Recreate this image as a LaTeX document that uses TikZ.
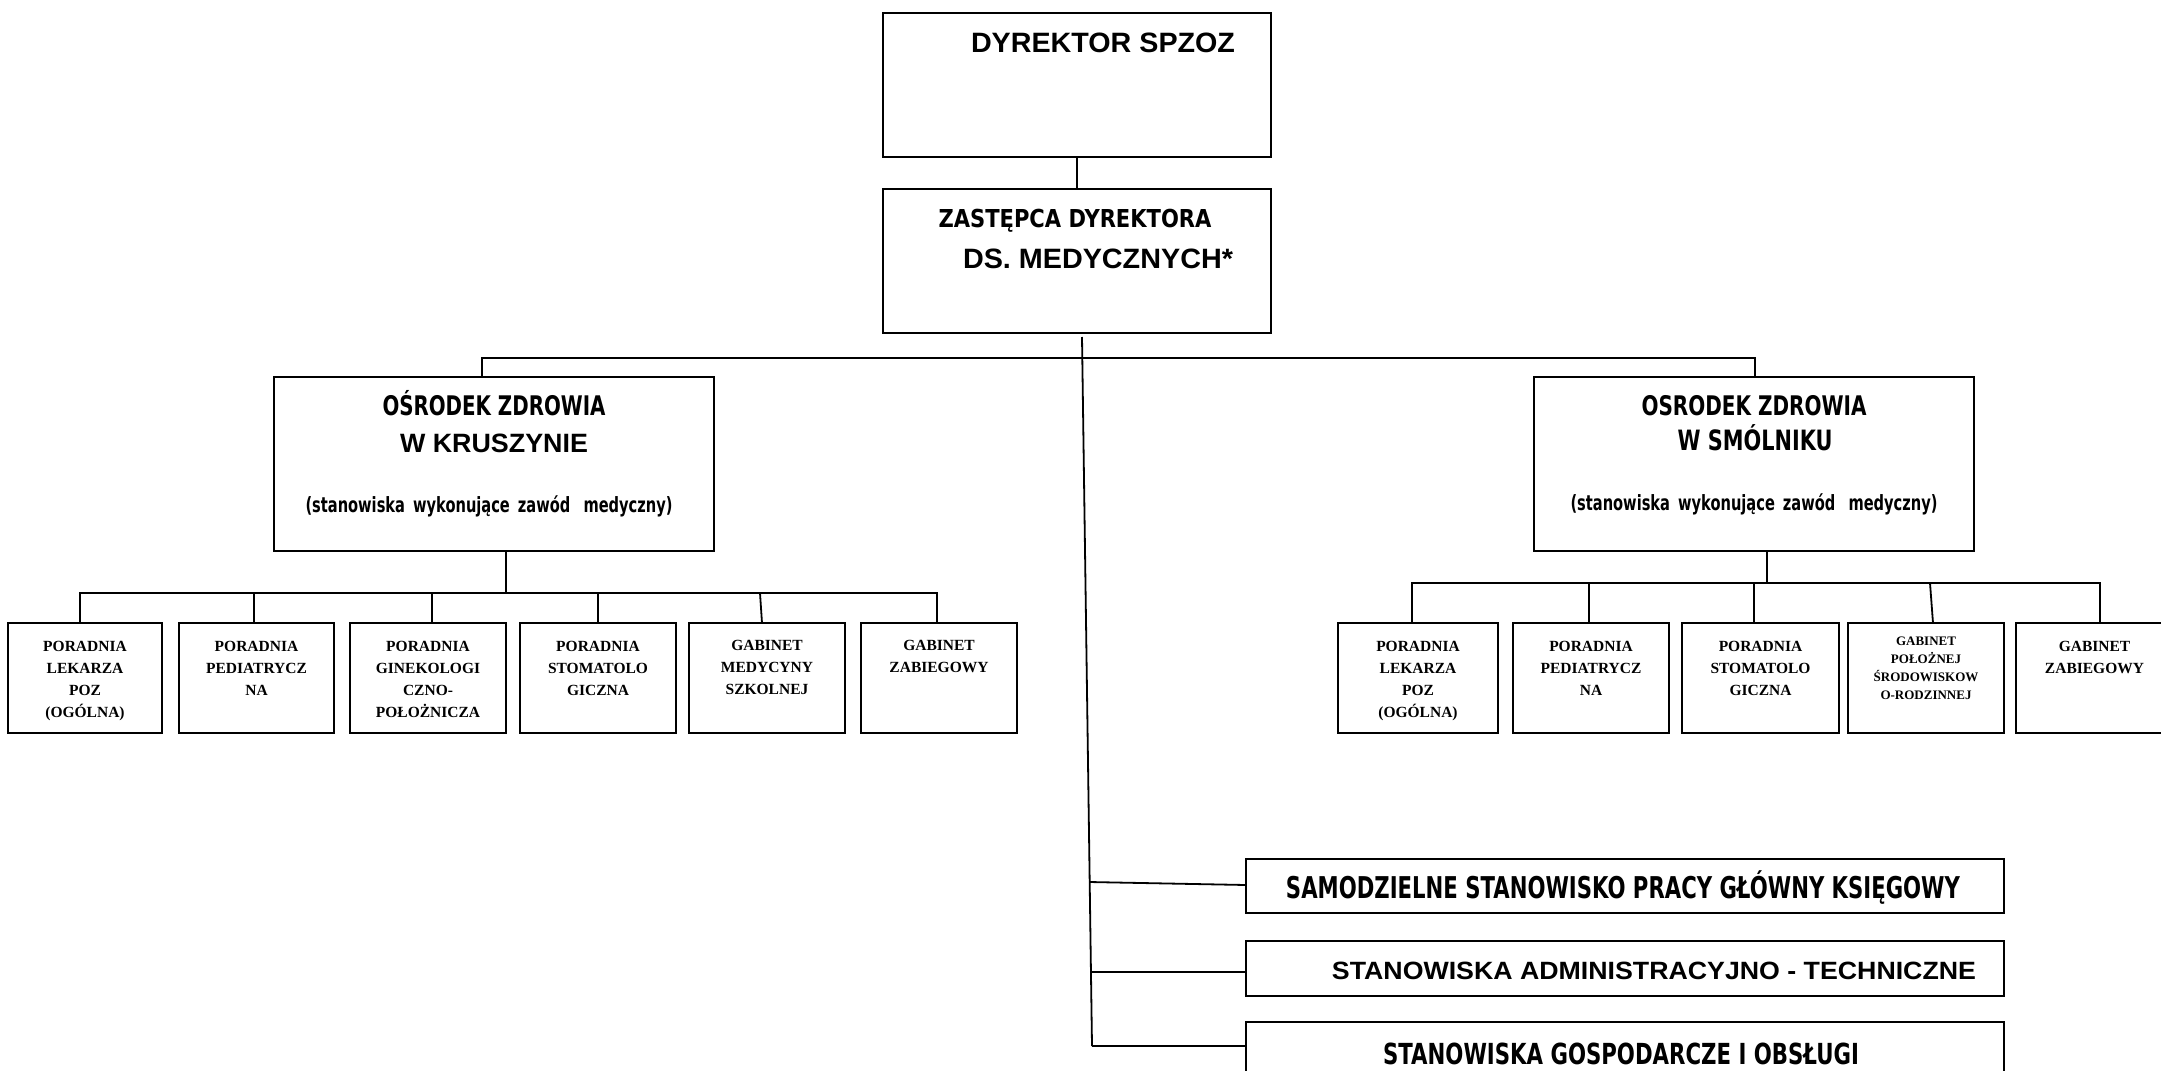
\documentclass[tikz,border=0pt]{standalone}
\usepackage{graphicx}
\usepackage{fontspec}
\usetikzlibrary{calc}
\newfontfamily\arialf{Liberation Sans}
\newfontfamily\tahomaf{DejaVu Sans}
\newfontfamily\tnrf{Liberation Serif}
\newcommand\fitw[2]{\resizebox{#1pt}{\height}{#2}}
\newcommand\wsp{\hspace{0.55em}}
\newcommand\bx[5]{\node[boxst, anchor=north west, minimum width={#4-#2}, minimum height={#5-#3}] (#1) at (#2,#3) {};}
\tikzset{
  boxst/.style={draw=black, line width=2pt, fill=white, inner sep=0pt, outer sep=0pt},
  conn/.style={draw=black, line width=1.8pt},
  lbl/.style={anchor=base, inner sep=0pt, outer sep=0pt},
  small/.style={anchor=north, inner sep=0pt, align=center, font=\tnrf\bfseries\fontsize{15.5}{22}\selectfont},
  smaller/.style={anchor=north, inner sep=0pt, align=center, font=\tnrf\bfseries\fontsize{13}{18}\selectfont},
}
\begin{document}
\begin{tikzpicture}[x=1pt,y=-1pt]
\clip (0,0) rectangle (2161,1071);
\fill[white] (0,0) rectangle (2161,1071);

\coordinate (hub) at (1082,358);
\coordinate (vtop) at (1082,337);
\coordinate (vbot) at (1092,1046);
\coordinate (lbus) at (506,593);
\coordinate (rbus) at (1767,583);

% --- boxes ---
\bx{dyr}{883}{13}{1271}{157}
\bx{zast}{883}{189}{1271}{333}
\bx{ozk}{274}{377}{714}{551}
\bx{ozs}{1534}{377}{1974}{551}

\bx{l1}{8}{623}{162}{733}
\bx{l2}{179}{623}{334}{733}
\bx{l3}{350}{623}{506}{733}
\bx{l4}{520}{623}{676}{733}
\bx{l5}{689}{623}{845}{733}
\bx{l6}{861}{623}{1017}{733}

\bx{r1}{1338}{623}{1498}{733}
\bx{r2}{1513}{623}{1669}{733}
\bx{r3}{1682}{623}{1839}{733}
\bx{r4}{1848}{623}{2004}{733}
\bx{r5}{2016}{623}{2173}{733}

\bx{sa}{1246}{859}{2004}{913}
\bx{sb}{1246}{941}{2004}{996}
\bx{sc}{1246}{1022}{2004}{1090}

% --- connector lines ---
\draw[conn] (dyr) -- (zast);
\draw[conn] ([xshift=-12pt]ozk.north) |- (hub) -| ([xshift=1pt]ozs.north);
\draw[conn] (vtop) -- (vbot);
\draw[conn] ($(vtop)!0.7687!(vbot)$) -- ([yshift=1pt]sa.west);
\draw[conn] ($(vtop)!0.8956!(vbot)$) -- ([yshift=-3.5pt]sb.west);
\draw[conn] (vbot) -- (sc.west |- vbot);

\draw[conn] ([xshift=12pt]ozk.south) -- (lbus);
\draw[conn] ([xshift=-5pt]l1.north) |- (lbus) -| ([xshift=-2pt]l6.north);
\draw[conn] ([xshift=-2.5pt]l2.north) -- ([xshift=-2.5pt]l2.north |- lbus);
\draw[conn] ([xshift=4pt]l3.north) -- ([xshift=4pt]l3.north |- lbus);
\draw[conn] (l4.north) -- (l4.north |- lbus);
\draw[conn] ([xshift=-5pt]l5.north) -- ([xshift=-7pt]l5.north |- lbus);

\draw[conn] ([xshift=13pt]ozs.south) -- (rbus);
\draw[conn] ([xshift=-6pt]r1.north) |- (rbus) -| ([xshift=5.5pt]r5.north);
\draw[conn] ([xshift=-2pt]r2.north) -- ([xshift=-2pt]r2.north |- rbus);
\draw[conn] ([xshift=-6.5pt]r3.north) -- ([xshift=-6.5pt]r3.north |- rbus);
\draw[conn] ([xshift=7pt]r4.north) -- ([xshift=4pt]r4.north |- rbus);

% --- texts ---
\node[lbl] (tdyr) at (1103,52) {\fitw{264}{\arialf\bfseries\fontsize{28}{30}\selectfont DYREKTOR SPZOZ}};
\node[lbl] (tz1) at (1075,227) {\fitw{273}{\tahomaf\bfseries\fontsize{24.7}{28}\selectfont ZASTĘPCA DYREKTORA}};
\node[lbl] (tz2) at (1098,268) {\fitw{270}{\arialf\bfseries\fontsize{28}{30}\selectfont DS. MEDYCZNYCH*}};

\node[lbl] (tk1) at (494,415) {\fitw{223}{\tahomaf\bfseries\fontsize{27}{30}\selectfont OŚRODEK ZDROWIA}};
\node[lbl] (tk2) at (494,452) {\fitw{188}{\arialf\bfseries\fontsize{26.5}{30}\selectfont W KRUSZYNIE}};
\node[lbl] (tk3) at (489,512) {\fitw{367}{\tahomaf\bfseries\fontsize{21}{24}\selectfont (stanowiska\wsp wykonujące\wsp zawód\wsp\ medyczny)}};

\node[lbl] (ts1) at (1754,415) {\fitw{225}{\tahomaf\bfseries\fontsize{27}{30}\selectfont OSRODEK ZDROWIA}};
\node[lbl] (ts2) at (1755,450) {\fitw{155}{\tahomaf\bfseries\fontsize{28}{30}\selectfont W SMÓLNIKU}};
\node[lbl] (ts3) at (1754,510) {\fitw{367}{\tahomaf\bfseries\fontsize{21}{24}\selectfont (stanowiska\wsp wykonujące\wsp zawód\wsp\ medyczny)}};

\node[small] (tl1) at ($(l1.north)+(0,18)$) {PORADNIA\\LEKARZA\\POZ\\(OGÓLNA)};
\node[small] (tl2) at ($(l2.north)+(0,18)$) {PORADNIA\\PEDIATRYCZ\\NA};
\node[small] (tl3) at ($(l3.north)+(0,18)$) {PORADNIA\\GINEKOLOGI\\CZNO-\\POŁOŻNICZA};
\node[small] (tl4) at ($(l4.north)+(0,18)$) {PORADNIA\\STOMATOLO\\GICZNA};
\node[small] (tl5) at ($(l5.north)+(0,17)$) {GABINET\\MEDYCYNY\\SZKOLNEJ};
\node[small] (tl6) at ($(l6.north)+(0,17)$) {GABINET\\ZABIEGOWY};

\node[small] (tr1) at ($(r1.north)+(0,18)$) {PORADNIA\\LEKARZA\\POZ\\(OGÓLNA)};
\node[small] (tr2) at ($(r2.north)+(0,18)$) {PORADNIA\\PEDIATRYCZ\\NA};
\node[small] (tr3) at ($(r3.north)+(0,18)$) {PORADNIA\\STOMATOLO\\GICZNA};
\node[smaller] (tr4) at ($(r4.north)+(0,14)$) {GABINET\\POŁOŻNEJ\\ŚRODOWISKOW\\O-RODZINNEJ};
\node[small] (tr5) at ($(r5.north)+(0,18)$) {GABINET\\ZABIEGOWY};

\node[lbl] (tsa) at (1623,898) {\fitw{674}{\tahomaf\bfseries\fontsize{30}{32}\selectfont SAMODZIELNE STANOWISKO PRACY GŁÓWNY KSIĘGOWY}};
\node[lbl] (tsb) at (1654,979) {\fitw{644}{\arialf\bfseries\fontsize{25}{28}\selectfont STANOWISKA ADMINISTRACYJNO - TECHNICZNE}};
\node[lbl] (tsc) at (1621,1064) {\fitw{476}{\tahomaf\bfseries\fontsize{29}{32}\selectfont STANOWISKA GOSPODARCZE I OBSŁUGI}};
\end{tikzpicture}
\end{document}
